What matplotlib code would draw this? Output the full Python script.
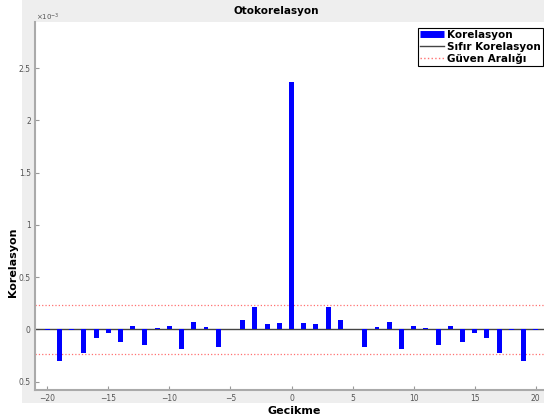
import numpy as np
import matplotlib.pyplot as plt
from matplotlib.lines import Line2D
from matplotlib.patches import Rectangle

# lag values and autocorrelation (x 1e-3)
lags = list(range(-20, 21))
acf = [-0.005, -0.305, -0.01, -0.225, -0.083, -0.035, -0.12, 0.03, -0.145, 0.016,
       0.035, -0.186, 0.07, 0.025, -0.17, 0.0, 0.093, 0.215, 0.051, 0.06,
       2.37,
       0.06, 0.051, 0.215, 0.093, 0.0, -0.17, 0.025, 0.07, -0.186, 0.035,
       0.016, -0.145, 0.03, -0.12, -0.035, -0.083, -0.225, -0.01, -0.305, -0.005]
conf_bound = 0.235
xticks = [-20, -15, -10, -5, 0, 5, 10, 15, 20]
yticks = [-0.5, 0, 0.5, 1, 1.5, 2, 2.5]
yticklabels = ['0.5', '0', '0.5', '1', '1.5', '2', '2.5']

W, H = 544, 420
fig = plt.figure(figsize=(W / 100, H / 100), dpi=100)
fig.patch.set_facecolor('white')
# grey matlab figure background
bg = Rectangle((22 / W, 1 - 403 / H), 1, 403 / H, transform=fig.transFigure,
               facecolor='#eeeeee', edgecolor='none', zorder=-10)
fig.patches.append(bg)

ax = fig.add_axes([35 / W, 1 - 390 / H, 513 / W, 368 / H])
ax.set_zorder(1)
ax.set_facecolor('white')

ax.bar(lags, acf, width=0.4, color='#0000ff', zorder=3)
ax.axhline(0, color='#444444', lw=1.0, zorder=2)
ax.axhline(conf_bound, color='#ff7070', lw=0.9, ls=':', zorder=2)
ax.axhline(-conf_bound, color='#ff7070', lw=0.9, ls=':', zorder=2)

ax.set_xlim(-21, 21)
ax.set_ylim(-0.58, 2.94)
ax.set_xticks(xticks)
ax.set_yticks(yticks)
ax.set_yticklabels(yticklabels)
ax.tick_params(direction='in', length=3, width=0.8, colors='#999999',
               labelcolor='#555555', labelsize=5.5, pad=3)
for s in ['top', 'right']:
    ax.spines[s].set_visible(False)
for s in ['left', 'bottom']:
    ax.spines[s].set_color('#aaaaaa')
    ax.spines[s].set_linewidth(1.5)

fig.text(36 / W, 1 - 17 / H, r'$\times10^{-3}$', fontsize=5, color='#555555', va='center')
fig.text(276 / W, 1 - 11 / H, 'Otokorelasyon', fontsize=7.5, fontweight='bold',
         ha='center', va='center')
fig.text(294 / W, 1 - 411 / H, 'Gecikme', fontsize=8, fontweight='bold',
         ha='center', va='center')
fig.text(13 / W, 1 - 262 / H, 'Korelasyon', fontsize=8, fontweight='bold',
         ha='center', va='center', rotation=90)

handles = [Line2D([], [], color='#0000ff', lw=5, solid_capstyle='butt'),
           Line2D([], [], color='#444444', lw=1),
           Line2D([], [], color='#ff7070', lw=1, ls=':')]
labels = ['Korelasyon', 'Sıfır Korelasyon', 'Güven Aralığı']
leg = fig.legend(handles, labels, loc='upper right', bbox_to_anchor=(543 / W, 1 - 28 / H),
                 bbox_transform=fig.transFigure, fancybox=False, framealpha=1,
                 edgecolor='black', prop={'weight': 'bold', 'size': 7.5},
                 handlelength=2.3, handletextpad=0.3, borderpad=0.2, labelspacing=0.15,
                 borderaxespad=0)
leg.set_zorder(5)
leg.get_frame().set_linewidth(0.8)

fig.savefig('out.png', dpi=100)
